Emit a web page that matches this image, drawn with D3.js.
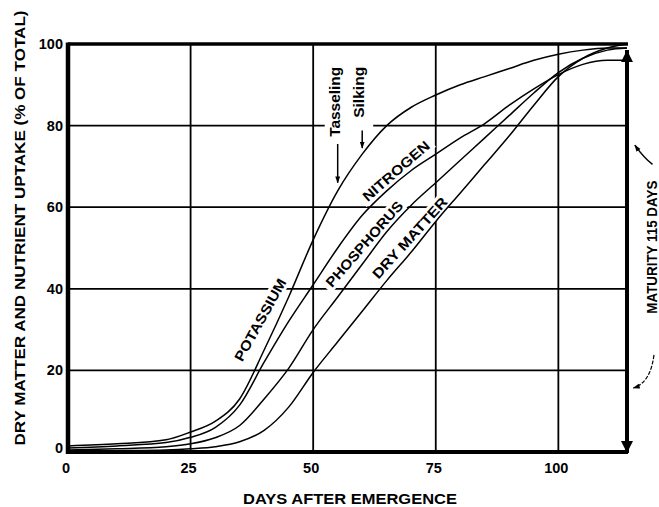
<!DOCTYPE html>
<html>
<head>
<meta charset="UTF-8">
<title>Dry matter and nutrient uptake</title>
<script src="https://cdn.jsdelivr.net/npm/d3@7"></script>
<style>
    body { margin: 0; background: #fff; }
    svg text { font-family: "Liberation Sans", Arial, sans-serif; font-weight: bold; fill: #000; }
</style>
</head>
<body>
<svg id="chart" width="659" height="507"></svg>
<script>
// days after emergence, shared by all four curves
var days = [0, 10, 20, 25, 30, 35, 40, 45, 50, 55, 60, 65, 70, 75, 80, 85, 90, 95, 100, 105, 110, 114];
var potassium  = [1.5, 2, 3, 4.9, 7.5, 13, 25, 38, 52, 64, 73, 80, 84.5, 87.5, 90, 92, 94, 96, 97.5, 98.5, 99, 99];
var nitrogen   = [1, 1.5, 2.3, 3.6, 6, 11.5, 22, 32, 41, 50, 58, 64, 69, 73, 77, 80.5, 85, 89, 92.5, 95, 96, 96];
var phosphorus = [0.5, 0.8, 1.3, 2, 3.5, 6.5, 13, 20.5, 30, 38, 46, 54, 60.5, 66, 71.5, 77, 82.5, 88, 93, 96.5, 98.5, 99];
var dryMatter  = [0.1, 0.3, 0.5, 0.8, 1.3, 2.5, 5.3, 11, 19.5, 27, 34.5, 42, 49, 56.5, 63.5, 70.5, 77.5, 85, 92, 96.5, 99, 100];

var xTicks = [0, 25, 50, 75, 100];
var yTicks = [0, 20, 40, 60, 80, 100];

// curve labels: where they sit (day, percent)
var labelNames = ["POTASSIUM", "NITROGEN", "PHOSPHORUS", "DRY MATTER"];
var labelDays  = [39.2, 66.9, 60.4, 69.7];
var labelPct   = [32.4, 68.9, 51, 52.5];

// growth stages
var stageNames = ["Tasseling", "Silking"];
var stageDays  = [55, 60];
var maturityDay = 114;

var svg = d3.select("#chart");
var x = d3.scaleLinear().domain([0, 114]).range([68, 627]);
var y = d3.scaleLinear().domain([0, 100]).range([452, 44]);

// arrow heads
var defs = svg.append("defs");
defs.append("marker").attr("id", "head").attr("viewBox", "0 0 10 10")
    .attr("refX", 9).attr("refY", 5).attr("markerWidth", 7).attr("markerHeight", 7)
    .attr("markerUnits", "userSpaceOnUse").attr("orient", "auto")
    .append("path").attr("d", "M0,1.5 L10,5 L0,8.5 Z").attr("fill", "#000");
defs.append("marker").attr("id", "bighead").attr("viewBox", "0 0 10 10")
    .attr("refX", 10).attr("refY", 5).attr("markerWidth", 12).attr("markerHeight", 12)
    .attr("markerUnits", "userSpaceOnUse").attr("orient", "auto-start-reverse")
    .append("path").attr("d", "M0,0 L10,5 L0,10 Z").attr("fill", "#000");

// grid
svg.append("g").selectAll("line").data(xTicks.slice(1))
    .enter().append("line")
    .attr("x1", function(d) { return x(d); }).attr("x2", function(d) { return x(d); })
    .attr("y1", y(100)).attr("y2", y(0))
    .attr("stroke", "#000").attr("stroke-width", 1.8);
svg.append("g").selectAll("line").data(yTicks.slice(1, -1))
    .enter().append("line")
    .attr("x1", x(0)).attr("x2", x(maturityDay))
    .attr("y1", function(d) { return y(d); }).attr("y2", function(d) { return y(d); })
    .attr("stroke", "#000").attr("stroke-width", 1.8);

// white space behind stage notes
svg.append("rect")
    .attr("x", x(stageDays[0]) - 13).attr("y", y(96))
    .attr("width", x(stageDays[1]) - x(stageDays[0]) + 24).attr("height", y(74) - y(96))
    .attr("fill", "#fff");

// white boxes behind curve labels
var fontSize = 14;
var labelAngle = [-61, -41, -48.7, -47.7];
var labelWidth = [92, 84, 109, 104];
var labelBg = svg.append("g");
labelNames.forEach(function(name, i) {
    labelBg.append("rect")
        .attr("transform", "translate(" + x(labelDays[i]) + "," + y(labelPct[i]) + ") rotate(" + labelAngle[i] + ")")
        .attr("x", -labelWidth[i] / 2 - 4).attr("y", -8).attr("width", labelWidth[i] + 8).attr("height", 16)
        .attr("fill", "#fff");
});

// curves
var line = d3.line()
    .x(function(d) { return x(d[0]); })
    .y(function(d) { return y(d[1]); })
    .curve(d3.curveMonotoneX);
[potassium, nitrogen, phosphorus, dryMatter].forEach(function(series) {
    svg.append("path")
        .datum(days.map(function(d, i) { return [d, series[i]]; }))
        .attr("d", line)
        .attr("fill", "none").attr("stroke", "#000").attr("stroke-width", 1.5);
});

// curve labels
labelNames.forEach(function(name, i) {
    svg.append("text")
        .attr("transform", "translate(" + x(labelDays[i]) + "," + y(labelPct[i]) + ") rotate(" + labelAngle[i] + ")")
        .attr("text-anchor", "middle").attr("dominant-baseline", "central")
        .attr("font-size", fontSize)
        .attr("textLength", labelWidth[i]).attr("lengthAdjust", "spacingAndGlyphs")
        .text(name);
});

// frame
svg.append("line").attr("x1", x(0)).attr("x2", x(maturityDay) + 1)
    .attr("y1", y(100)).attr("y2", y(100)).attr("stroke", "#000").attr("stroke-width", 3.5);
svg.append("line").attr("x1", x(0) - 2).attr("x2", x(maturityDay) + 1)
    .attr("y1", y(0)).attr("y2", y(0)).attr("stroke", "#000").attr("stroke-width", 4);
svg.append("line").attr("x1", x(0)).attr("x2", x(0))
    .attr("y1", y(100) - 1.5).attr("y2", y(0) + 2).attr("stroke", "#000").attr("stroke-width", 4.5);
// maturity marker with arrow heads at both ends
svg.append("line").attr("x1", x(maturityDay)).attr("x2", x(maturityDay))
    .attr("y1", y(98.5)).attr("y2", y(0) + 1)
    .attr("stroke", "#000").attr("stroke-width", 4)
    .attr("marker-start", "url(#bighead)").attr("marker-end", "url(#bighead)");

// tick labels
svg.append("g").selectAll("text").data(xTicks)
    .enter().append("text")
    .attr("x", function(d) { return x(d) - 2; }).attr("y", y(0) + 21)
    .attr("text-anchor", "middle").attr("font-size", 14.5)
    .text(function(d) { return d; });
svg.append("g").selectAll("text").data(yTicks)
    .enter().append("text")
    .attr("x", x(0) - 5).attr("y", function(d) { return y(d) + (d === 0 ? 1 : 5); })
    .attr("text-anchor", "end").attr("font-size", 14.5)
    .text(function(d) { return d; });

// axis titles
svg.append("text")
    .attr("x", 350).attr("y", 504)
    .attr("text-anchor", "middle").attr("font-size", 15)
    .attr("textLength", 214).attr("lengthAdjust", "spacingAndGlyphs")
    .text("DAYS AFTER EMERGENCE");
svg.append("text")
    .attr("transform", "translate(25,228) rotate(-90)")
    .attr("text-anchor", "middle").attr("font-size", 15.5)
    .attr("textLength", 435).attr("lengthAdjust", "spacingAndGlyphs")
    .text("DRY MATTER AND NUTRIENT UPTAKE (% OF TOTAL)");

// stage notes
var stageLen = [70, 51];
var stageTop = [94.4, 94.4];
var arrowFrom = [75.5, 78.8];
var arrowTo = [66, 74.5];
stageNames.forEach(function(name, i) {
    svg.append("text")
        .attr("transform", "translate(" + (x(stageDays[i]) + 2) + "," + y(stageTop[i]) + ") rotate(-90)")
        .attr("text-anchor", "end").attr("font-size", 14)
        .attr("textLength", stageLen[i]).attr("lengthAdjust", "spacingAndGlyphs")
        .text(name);
    svg.append("line")
        .attr("x1", x(stageDays[i])).attr("x2", x(stageDays[i]))
        .attr("y1", y(arrowFrom[i])).attr("y2", y(arrowTo[i]))
        .attr("stroke", "#000").attr("stroke-width", 1.5)
        .attr("marker-end", "url(#head)");
});

// maturity note
svg.append("text")
    .attr("transform", "translate(" + (x(maturityDay) + 30) + "," + y(50.2) + ") rotate(-90)")
    .attr("text-anchor", "middle").attr("font-size", 14)
    .attr("textLength", 133).attr("lengthAdjust", "spacingAndGlyphs")
    .text("MATURITY 115 DAYS");
var p1 = d3.path();
p1.moveTo(x(119.2), y(70.5));
p1.quadraticCurveTo(x(117.5), y(72), x(115.6), y(75.2));
svg.append("path").attr("d", p1.toString())
    .attr("fill", "none").attr("stroke", "#000").attr("stroke-width", 1.5)
    .attr("marker-end", "url(#head)");
var p2 = d3.path();
p2.moveTo(x(119.5), y(23.8));
p2.quadraticCurveTo(x(118.8), y(17), x(115.3), y(15.7));
svg.append("path").attr("d", p2.toString())
    .attr("fill", "none").attr("stroke", "#000").attr("stroke-width", 1.2)
    .attr("stroke-dasharray", "4,1.5")
    .attr("marker-end", "url(#head)");
</script>
</body>
</html>
